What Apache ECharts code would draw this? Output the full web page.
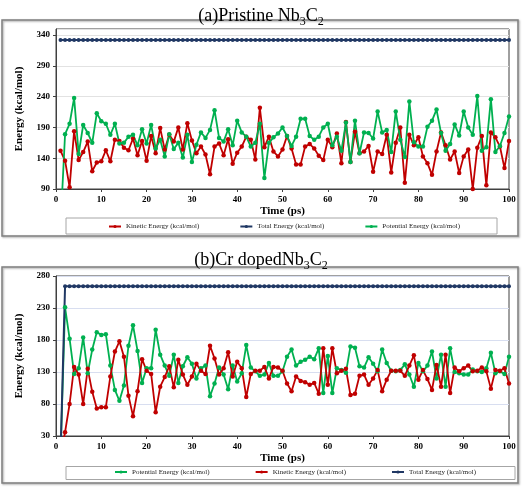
<!DOCTYPE html>
<html><head><meta charset="utf-8">
<script src="https://cdn.jsdelivr.net/npm/echarts@6/dist/echarts.min.js"></script>
<style>html,body{margin:0;padding:0;background:#fff}#c{width:522px;height:487px}</style>
</head><body><div id="c"></div>
<script>
const time = [1,2,3,4,5,6,7,8,9,10,11,12,13,14,15,16,17,18,19,20,21,22,23,24,25,26,27,28,29,30,31,32,33,34,35,36,37,38,39,40,41,42,43,44,45,46,47,48,49,50,51,52,53,54,55,56,57,58,59,60,61,62,63,64,65,66,67,68,69,70,71,72,73,74,75,76,77,78,79,80,81,82,83,84,85,86,87,88,89,90,91,92,93,94,95,96,97,98,99,100];

// (a) Pristine Nb3C2
const kineticA = [152,136,93,184,137,150,167,119,133,135,153,135,170,168,157,153,172,145,168,136,176,148,189,154,178,167,190,154,197,169,148,159,146,114,159,164,145,171,131,149,159,175,170,138,222,158,175,151,143,154,176,156,130,130,159,163,156,144,137,170,158,180,132,199,134,183,148,151,160,118,151,147,178,117,165,190,100,178,161,174,143,132,113,151,182,161,138,151,116,143,154,90,157,176,96,182,174,159,124,168];
const totalA = [332,332,332,332,332,332,332,332,332,332,332,332,332,332,332,332,332,332,332,332,332,332,332,332,332,332,332,332,332,332,332,332,332,332,332,332,332,332,332,332,332,332,332,332,332,332,332,332,332,332,332,332,332,332,332,332,332,332,332,332,332,332,332,332,332,332,332,332,332,332,332,332,332,332,332,332,332,332,332,332,332,332,332,332,332,332,332,332,332,332,332,332,332,332,332,332,332,332,332,332];
const potentialA = [30,179,196,238,147,194,181,165,213,200,196,178,196,164,165,175,178,161,187,164,194,156,170,143,179,155,165,141,178,134,162,182,173,186,218,173,167,187,161,201,182,175,159,165,196,108,165,174,180,190,176,160,175,204,204,176,170,175,190,196,161,175,152,198,134,201,148,182,181,172,216,182,186,150,216,170,142,232,166,159,159,191,201,219,181,152,163,195,177,216,190,178,241,152,158,236,150,160,181,208];

// (b) Cr doped Nb3C2
const potentialB = [0,231,182,127,136,184,128,165,192,188,189,140,102,85,109,171,203,163,113,136,136,196,157,140,124,157,113,139,153,143,120,136,140,92,112,137,126,103,140,115,128,172,137,131,124,126,144,124,124,131,154,165,140,146,149,154,150,167,97,155,97,136,133,129,170,168,139,137,153,143,131,165,144,132,131,133,142,126,107,144,131,140,162,120,157,107,167,130,128,126,126,134,131,130,136,160,128,131,127,154];
const kineticB = [0,36,80,138,126,80,135,99,73,75,75,123,162,178,154,93,61,100,150,132,127,67,107,122,139,106,149,126,110,123,143,132,127,171,151,126,136,161,123,146,136,91,127,132,132,138,120,138,137,132,112,100,123,116,114,110,113,96,167,110,167,128,132,135,94,96,124,126,110,120,133,100,118,132,132,132,124,140,156,118,133,119,102,141,107,157,97,137,131,136,140,131,132,137,131,104,133,132,136,112];
const totalB = [0,264,264,264,264,264,264,264,264,264,264,264,264,264,264,264,264,264,264,264,264,264,264,264,264,264,264,264,264,264,264,264,264,264,264,264,264,264,264,264,264,264,264,264,264,264,264,264,264,264,264,264,264,264,264,264,264,264,264,264,264,264,264,264,264,264,264,264,264,264,264,264,264,264,264,264,264,264,264,264,264,264,264,264,264,264,264,264,264,264,264,264,264,264,264,264,264,264,264,264];

const xTicks = {min:0, max:100, interval:10};
const yTicksA = {min:90, max:350, interval:50};
const yTicksB = {min:30, max:280, interval:50};

const NAME_K = 'Kinetic Energy (kcal/mol)';
const NAME_T = 'Total Energy (kcal/mol)';
const NAME_P = 'Potential Energy (kcal/mol)';
const RED = '#C00000', GREEN = '#00B050', NAVY = '#203864';
const SERIF = '"Liberation Serif","Times New Roman",serif';

const pairs = v => time.map((t,i)=>[t, v[i]]);

function mkSeries(name, vals, color, idx, lw, sym){
  return {name, type:'line', data:pairs(vals), xAxisIndex:idx, yAxisIndex:idx,
    color, lineStyle:{width:lw, color}, itemStyle:{color},
    symbol:'circle', symbolSize:sym, showSymbol:true, clip:true, animation:false};
}

function xAx(idx, gap){
  return {type:'value', gridIndex:idx, min:xTicks.min, max:xTicks.max, interval:xTicks.interval,
    name:'Time (ps)', nameLocation:'middle', nameGap:gap,
    nameTextStyle:{fontFamily:SERIF, fontWeight:'bold', fontSize:11, color:'#000'},
    axisLine:{show:true, lineStyle:{color:'#404040', width:1}},
    axisTick:{show:true, length:3, lineStyle:{color:'#404040'}}, splitLine:{show:false},
    axisLabel:{fontFamily:SERIF, fontWeight:'bold', fontSize:9, color:'#000', margin:6}};
}
function yAx(idx, t, gridColor){
  return {type:'value', gridIndex:idx, min:t.min, max:t.max, interval:t.interval,
    name:'Energy (kcal/mol)', nameLocation:'middle', nameGap:31,
    nameTextStyle:{fontFamily:SERIF, fontWeight:'bold', fontSize:11, color:'#000'},
    axisLine:{show:true, lineStyle:{color:'#404040', width:1}},
    axisTick:{show:true, length:3, lineStyle:{color:'#404040'}},
    splitLine:{show:true, lineStyle:{color:gridColor, width:1}},
    axisLabel:{fontFamily:SERIF, fontWeight:'bold', fontSize:9, color:'#000', margin:6, showMaxLabel: t.max===280}};
}

const titleRich = {
  m:{fontFamily:SERIF, fontSize:18, fontWeight:'normal', color:'#000', lineHeight:24},
  s:{fontFamily:SERIF, fontSize:12, fontWeight:'normal', color:'#000', lineHeight:12, verticalAlign:'bottom'}
};

const legendText = {fontFamily:SERIF, fontSize:7, color:'#222'};

const chart = echarts.init(document.getElementById('c'), null, {renderer:'canvas'});
chart.setOption({
  animation:false,
  backgroundColor:'#fff',
  graphic:[
    {type:'rect', shape:{x:2, y:20, width:516, height:216}, style:{fill:'none', stroke:'#7f7f7f', lineWidth:1.5, shadowBlur:2, shadowColor:'rgba(0,0,0,0.35)', shadowOffsetX:1, shadowOffsetY:1}, z:-1},
    {type:'rect', shape:{x:2, y:267, width:516, height:216}, style:{fill:'none', stroke:'#7f7f7f', lineWidth:1.5, shadowBlur:2, shadowColor:'rgba(0,0,0,0.35)', shadowOffsetX:1, shadowOffsetY:1}, z:-1},
    {type:'rect', shape:{x:66, y:218, width:431, height:16}, style:{fill:'none', stroke:'#a6a6a6', lineWidth:1}, z:-1},
    {type:'rect', shape:{x:66, y:466.5, width:449, height:13}, style:{fill:'none', stroke:'#a6a6a6', lineWidth:1}, z:-1}
  ],
  title:[
    {text:'{m|(a)Pristine Nb}{s|3}{m|C}{s|2}', left:'center', top:-1, textStyle:{fontWeight:'normal', rich:titleRich}},
    {text:'{m|(b)Cr dopedNb}{s|3}{m|C}{s|2}', left:'center', top:243, textStyle:{fontWeight:'normal', rich:titleRich}}
  ],
  legend:[
    {data:[NAME_K, NAME_T, NAME_P], top:223, left:108, itemGap:40, itemWidth:12, itemHeight:4, textStyle:legendText, padding:0},
    {data:[NAME_P, NAME_K, NAME_T], top:468.5, left:114, itemGap:45, itemWidth:12, itemHeight:4, textStyle:legendText, padding:0}
  ],
  grid:[
    {left:56, right:13, top:29, height:160, show:true, borderColor:'#404040', borderWidth:1},
    {left:56, right:13, top:276, height:160, show:true, borderColor:'#404040', borderWidth:1}
  ],
  xAxis:[xAx(0, 17), xAx(1, 17)],
  yAxis:[yAx(0, yTicksA, '#e2e2e2'), yAx(1, yTicksB, '#d8def0')],
  series:[
    mkSeries(NAME_K, kineticA, RED, 0, 1.8, 4.5),
    mkSeries(NAME_T, totalA, NAVY, 0, 2, 4),
    mkSeries(NAME_P, potentialA, GREEN, 0, 1.8, 4.5),
    mkSeries(NAME_P, potentialB, GREEN, 1, 1.8, 4.5),
    mkSeries(NAME_K, kineticB, RED, 1, 1.8, 4.5),
    mkSeries(NAME_T, totalB, NAVY, 1, 2, 4)
  ]
});
</script></body></html>
